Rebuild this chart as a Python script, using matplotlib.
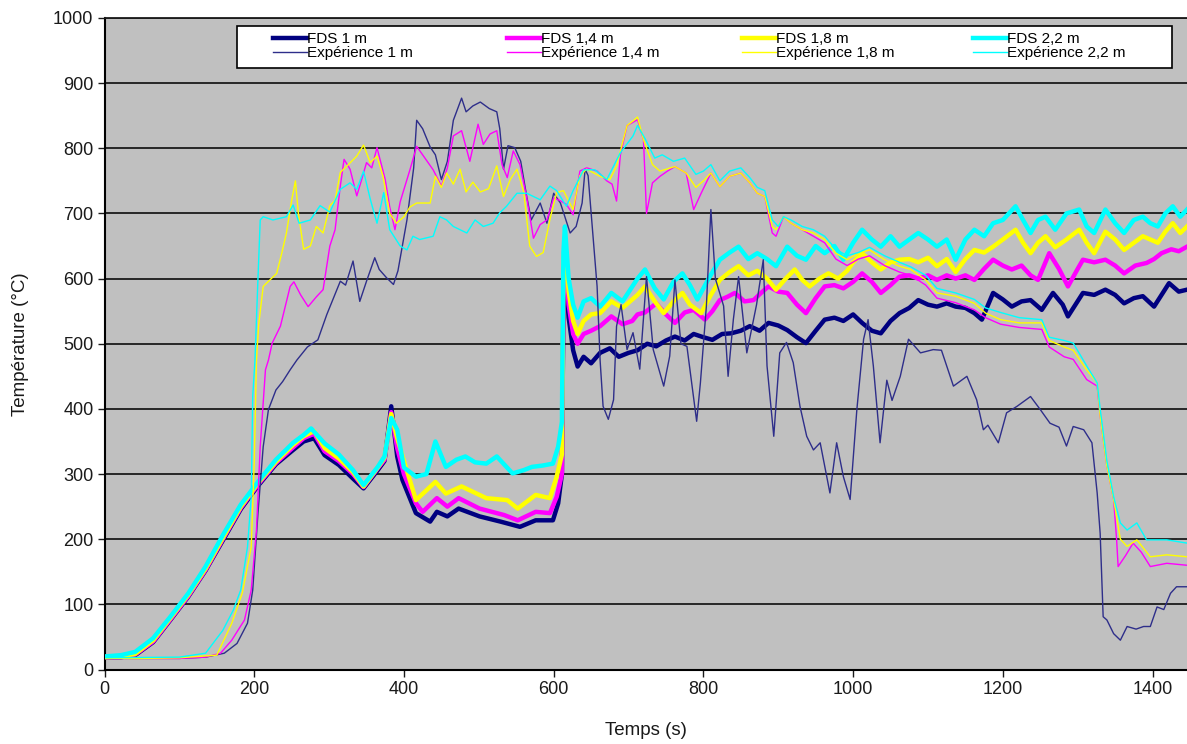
import numpy as np
import matplotlib
matplotlib.use('Agg')
import matplotlib.pyplot as plt
from matplotlib.patches import Rectangle

plt.rcParams['font.family'] = ['Liberation Sans', 'DejaVu Sans']

# (temps s, température °C)
fds_1m = [(0, 19), (22, 19), (41, 22), (65, 42), (88, 76), (112, 112), (135, 152), (158, 198), (182, 246), (205, 282),
          (229, 315), (252, 337), (266, 350), (280, 355), (294, 329), (313, 314), (332, 293), (346, 278), (365, 306),
          (374, 320), (383, 404), (391, 327), (398, 291), (416, 240), (435, 227), (444, 242), (458, 235), (473, 247),
          (501, 235), (529, 227), (555, 219), (576, 229), (599, 229), (606, 255), (611, 300), (613, 560), (615, 620),
          (620, 540), (626, 490), (632, 465), (640, 480), (650, 470), (662, 486), (675, 493), (687, 480), (700, 486),
          (712, 490), (725, 500), (737, 496), (750, 505), (762, 511), (775, 505), (787, 515), (800, 510), (812, 506),
          (825, 515), (837, 516), (850, 520), (862, 527), (875, 520), (887, 532), (900, 528), (912, 521), (925, 510),
          (937, 501), (950, 520), (962, 537), (975, 540), (987, 535), (1000, 545), (1012, 532), (1025, 520),
          (1037, 516), (1050, 535), (1062, 547), (1075, 555), (1087, 567), (1100, 560), (1112, 557), (1125, 562),
          (1137, 557), (1150, 555), (1162, 547), (1172, 537), (1187, 578), (1200, 568), (1212, 557), (1225, 565),
          (1237, 567), (1252, 552), (1267, 578), (1280, 560), (1287, 542), (1297, 560), (1307, 578), (1322, 575),
          (1337, 583), (1350, 575), (1362, 562), (1375, 570), (1387, 573), (1402, 557), (1412, 575), (1422, 593),
          (1435, 580), (1446, 583)]
fds_14m = [(0, 19), (22, 19), (41, 23), (65, 43), (88, 77), (112, 113), (135, 153), (158, 200), (182, 248), (205, 284),
           (229, 317), (252, 341), (266, 355), (280, 362), (294, 335), (313, 320), (332, 300), (346, 280), (365, 309),
           (374, 322), (383, 395), (391, 340), (400, 300), (416, 255), (425, 242), (444, 263), (458, 250), (473, 263),
           (501, 247), (534, 237), (552, 229), (576, 242), (595, 240), (604, 265), (611, 300), (613, 600), (615, 640),
           (620, 560), (626, 515), (632, 500), (640, 515), (650, 520), (662, 527), (677, 542), (692, 530), (705, 535),
           (712, 545), (722, 548), (737, 562), (750, 545), (762, 532), (775, 548), (787, 552), (802, 537), (812, 550),
           (822, 567), (832, 572), (842, 578), (855, 565), (867, 567), (877, 578), (887, 588), (900, 580), (912, 578),
           (925, 560), (937, 547), (950, 570), (962, 588), (975, 590), (987, 585), (1000, 595), (1012, 608),
           (1025, 595), (1037, 578), (1050, 590), (1062, 603), (1075, 605), (1087, 600), (1100, 605), (1112, 598),
           (1125, 605), (1137, 600), (1150, 605), (1162, 598), (1175, 615), (1187, 629), (1200, 620), (1212, 614),
           (1225, 620), (1237, 605), (1247, 598), (1262, 639), (1275, 615), (1287, 588), (1300, 615), (1307, 629),
           (1322, 625), (1337, 629), (1350, 620), (1362, 608), (1377, 620), (1392, 624), (1402, 630), (1412, 639),
           (1425, 645), (1435, 642), (1446, 649)]
fds_18m = [(0, 19), (22, 20), (41, 24), (65, 45), (88, 79), (112, 115), (135, 155), (158, 202), (182, 250), (205, 286),
           (229, 319), (252, 345), (266, 358), (280, 366), (294, 340), (313, 324), (332, 303), (346, 281), (365, 310),
           (374, 325), (383, 392), (391, 355), (400, 320), (416, 260), (430, 275), (442, 288), (456, 270), (477, 281),
           (510, 263), (538, 260), (552, 247), (576, 268), (595, 263), (604, 296), (611, 330), (613, 620), (615, 660),
           (620, 580), (626, 535), (632, 515), (640, 535), (650, 545), (662, 547), (677, 565), (692, 555), (712, 575),
           (722, 588), (735, 565), (747, 547), (760, 565), (772, 578), (782, 560), (797, 547), (810, 575), (822, 598),
           (835, 610), (847, 619), (860, 605), (872, 612), (885, 600), (897, 583), (910, 600), (922, 614), (932, 598),
           (942, 588), (955, 600), (967, 608), (980, 600), (992, 612), (1000, 625), (1012, 639), (1025, 625),
           (1037, 614), (1050, 625), (1062, 629), (1075, 630), (1087, 625), (1100, 632), (1112, 619), (1125, 630),
           (1137, 610), (1150, 630), (1162, 644), (1175, 640), (1187, 649), (1200, 660), (1217, 675), (1227, 655),
           (1237, 639), (1247, 655), (1257, 665), (1270, 648), (1285, 660), (1302, 675), (1312, 655), (1322, 639),
           (1337, 672), (1350, 660), (1362, 644), (1375, 655), (1387, 665), (1397, 660), (1407, 655), (1417, 672),
           (1427, 685), (1437, 670), (1446, 680)]
fds_22m = [(0, 20), (22, 22), (41, 27), (65, 48), (88, 81), (112, 117), (135, 158), (158, 206), (182, 253), (205, 288),
           (229, 322), (252, 348), (266, 360), (276, 370), (294, 347), (313, 330), (332, 306), (346, 283), (365, 311),
           (374, 327), (383, 386), (391, 368), (400, 310), (416, 296), (430, 300), (442, 350), (456, 311), (470, 322),
           (482, 327), (495, 318), (510, 316), (524, 327), (545, 301), (560, 306), (571, 311), (585, 313), (599, 316),
           (606, 342), (611, 380), (613, 640), (615, 680), (620, 600), (626, 560), (632, 540), (640, 565), (650, 570),
           (662, 557), (677, 578), (692, 565), (712, 600), (722, 614), (735, 585), (747, 568), (760, 595), (772, 608),
           (782, 590), (792, 568), (807, 600), (822, 629), (835, 640), (847, 649), (860, 630), (872, 639), (885, 630),
           (897, 619), (912, 649), (925, 635), (937, 629), (950, 650), (962, 639), (975, 650), (987, 629), (1000, 655),
           (1012, 675), (1025, 660), (1037, 649), (1050, 665), (1062, 649), (1075, 660), (1087, 670), (1100, 660),
           (1112, 649), (1125, 660), (1137, 629), (1150, 660), (1162, 675), (1175, 665), (1187, 685), (1200, 690),
           (1217, 711), (1227, 690), (1237, 670), (1247, 690), (1257, 695), (1270, 675), (1285, 700), (1302, 706),
           (1312, 680), (1322, 670), (1337, 706), (1350, 685), (1362, 670), (1375, 690), (1387, 695), (1397, 685),
           (1407, 680), (1417, 700), (1427, 711), (1437, 695), (1446, 706)]

exp_1m = [(0, 17), (50, 17), (100, 17), (135, 19), (160, 25), (177, 40), (191, 71), (198, 122), (205, 240), (212, 342),
          (219, 399), (229, 429), (238, 442), (248, 460), (257, 475), (271, 495), (285, 506), (297, 545), (315, 596),
          (322, 590), (332, 627), (341, 565), (350, 596), (361, 632), (367, 614), (377, 601), (386, 591), (392, 612),
          (404, 690), (413, 770), (417, 843), (425, 830), (435, 802), (442, 790), (450, 752), (458, 780), (466, 843),
          (477, 877), (483, 856), (492, 865), (502, 871), (514, 861), (524, 856), (528, 830), (533, 768), (539, 804),
          (548, 801), (556, 780), (564, 726), (570, 690), (582, 716), (591, 685), (600, 731), (609, 716), (622, 670),
          (630, 680), (638, 716), (642, 768), (646, 758), (653, 660), (658, 588), (662, 475), (666, 404), (673, 384),
          (680, 414), (684, 527), (690, 560), (698, 491), (706, 517), (715, 461), (724, 603), (733, 491), (747, 435),
          (755, 481), (762, 598), (770, 500), (778, 496), (791, 381), (796, 440), (804, 558), (810, 706), (816, 600),
          (827, 558), (833, 450), (840, 537), (847, 603), (858, 486), (871, 560), (880, 629), (885, 466), (894, 358),
          (902, 486), (911, 502), (920, 471), (929, 404), (938, 358), (947, 337), (956, 348), (969, 271), (978, 348),
          (987, 296), (996, 261), (1005, 399), (1014, 507), (1020, 537), (1027, 466), (1036, 348), (1045, 444),
          (1052, 413), (1063, 450), (1074, 507), (1090, 486), (1107, 491), (1118, 490), (1134, 435), (1152, 450),
          (1165, 414), (1174, 368), (1180, 375), (1194, 348), (1205, 394), (1219, 404), (1237, 419), (1250, 399),
          (1263, 378), (1275, 372), (1285, 343), (1294, 373), (1308, 368), (1319, 348), (1326, 271), (1330, 209),
          (1334, 81), (1339, 76), (1348, 55), (1357, 45), (1366, 66), (1378, 62), (1388, 66), (1397, 66), (1406, 96),
          (1415, 92), (1424, 117), (1432, 127), (1446, 127)]
exp_14m = [(0, 17), (50, 17), (100, 17), (135, 19), (155, 25), (170, 45), (187, 76), (196, 122), (203, 214), (208, 342),
           (215, 460), (219, 475), (224, 501), (235, 527), (248, 588), (253, 595), (262, 575), (272, 557), (283, 572),
           (292, 583), (301, 650), (308, 675), (315, 742), (320, 783), (328, 768), (337, 727), (343, 750), (350, 778),
           (357, 770), (364, 801), (375, 752), (381, 710), (388, 675), (395, 718), (408, 767), (417, 803), (428, 785),
           (439, 767), (450, 742), (458, 770), (466, 819), (477, 827), (488, 780), (499, 837), (506, 806), (515, 822),
           (524, 827), (531, 775), (538, 755), (546, 796), (555, 775), (564, 724), (573, 662), (582, 683), (591, 690),
           (600, 724), (608, 720), (617, 714), (626, 698), (635, 765), (644, 770), (658, 765), (671, 750), (678, 745),
           (684, 719), (689, 789), (698, 835), (706, 840), (712, 844), (720, 813), (724, 700), (732, 747), (742, 757),
           (752, 765), (762, 772), (777, 762), (787, 706), (797, 731), (810, 762), (822, 741), (835, 757), (850, 762),
           (862, 747), (872, 731), (882, 726), (892, 670), (897, 665), (907, 695), (917, 685), (932, 675), (947, 665),
           (962, 655), (977, 630), (992, 620), (1007, 630), (1022, 635), (1042, 620), (1062, 610), (1077, 605),
           (1097, 590), (1112, 570), (1137, 563), (1162, 552), (1177, 540), (1197, 530), (1222, 525), (1252, 522),
           (1262, 495), (1282, 480), (1294, 476), (1312, 445), (1326, 435), (1330, 389), (1339, 312), (1348, 261),
           (1352, 199), (1354, 158), (1364, 175), (1374, 194), (1385, 180), (1397, 158), (1419, 163), (1446, 160)]
exp_18m = [(0, 17), (50, 17), (100, 18), (150, 22), (170, 71), (184, 117), (196, 188), (200, 317), (203, 475),
           (206, 530), (212, 588), (221, 598), (230, 608), (237, 640), (243, 670), (250, 720), (255, 750), (259, 700),
           (266, 645), (275, 650), (283, 680), (292, 670), (301, 712), (308, 720), (315, 763), (324, 773), (337, 788),
           (346, 805), (355, 778), (364, 788), (372, 757), (381, 700), (390, 685), (400, 695), (408, 710), (417, 716),
           (435, 716), (442, 757), (450, 740), (457, 762), (466, 745), (475, 768), (483, 733), (492, 748), (502, 733),
           (513, 738), (524, 773), (533, 726), (542, 752), (551, 768), (560, 733), (568, 650), (577, 634), (586, 640),
           (595, 691), (604, 732), (613, 735), (626, 706), (635, 758), (644, 768), (662, 757), (675, 752), (684, 773),
           (698, 835), (706, 842), (712, 848), (720, 813), (732, 775), (742, 765), (762, 772), (777, 762), (790, 740),
           (800, 750), (810, 762), (822, 741), (835, 757), (850, 762), (862, 747), (872, 731), (882, 726), (892, 680),
           (897, 675), (907, 695), (917, 685), (932, 675), (947, 670), (962, 660), (977, 639), (992, 629), (1007, 639),
           (1022, 644), (1042, 629), (1062, 619), (1077, 614), (1097, 598), (1112, 578), (1137, 573), (1162, 562),
           (1177, 547), (1197, 537), (1222, 532), (1252, 532), (1262, 505), (1282, 495), (1294, 490), (1312, 460),
           (1326, 440), (1330, 389), (1339, 312), (1348, 261), (1357, 200), (1366, 189), (1379, 199), (1397, 173),
           (1419, 176), (1446, 173)]
exp_22m = [(0, 18), (100, 19), (135, 25), (158, 60), (172, 91), (182, 122), (191, 188), (196, 265), (198, 419),
           (201, 475), (205, 600), (208, 690), (212, 695), (225, 690), (243, 695), (252, 713), (260, 685), (275, 690),
           (288, 712), (301, 702), (315, 737), (328, 747), (337, 737), (346, 765), (355, 722), (364, 685), (373, 732),
           (381, 675), (395, 650), (404, 644), (412, 665), (421, 660), (439, 665), (448, 695), (457, 690), (466, 680),
           (484, 670), (495, 690), (506, 680), (519, 685), (528, 701), (537, 711), (551, 731), (564, 731), (582, 721),
           (595, 742), (604, 735), (617, 711), (626, 735), (640, 767), (655, 767), (671, 752), (689, 793), (706, 819),
           (712, 835), (722, 815), (735, 785), (745, 790), (760, 780), (775, 785), (790, 760), (800, 765), (810, 775),
           (822, 750), (835, 765), (850, 770), (862, 755), (872, 740), (882, 735), (892, 690), (900, 680), (907, 695),
           (917, 690), (932, 680), (947, 675), (962, 665), (977, 645), (992, 635), (1007, 640), (1022, 648),
           (1042, 635), (1062, 625), (1077, 618), (1097, 605), (1112, 585), (1137, 578), (1162, 568), (1177, 555),
           (1197, 548), (1222, 540), (1252, 537), (1262, 510), (1282, 505), (1294, 501), (1312, 466), (1326, 440),
           (1330, 400), (1339, 320), (1348, 265), (1357, 225), (1366, 214), (1379, 225), (1392, 199), (1419, 199),
           (1446, 194)]

labels_fds = ['FDS 1 m', 'FDS 1,4 m', 'FDS 1,8 m', 'FDS 2,2 m']
labels_exp = ['Expérience 1 m', 'Expérience 1,4 m', 'Expérience 1,8 m', 'Expérience 2,2 m']
colors_fds = ['#000080', '#ff00ff', '#ffff00', '#00ffff']
colors_exp = ['#2e2e8a', '#ff00ff', '#ffff00', '#00ffff']

W, H = 1187, 744
fig = plt.figure(figsize=(W / 100, H / 100), dpi=100)
ax = fig.add_axes([104.5 / W, 1 - 669.5 / H, (W - 104.5) / W, 651.5 / H])
ax.set_facecolor('#c0c0c0')

h_fds = []
for data, c in zip([fds_1m, fds_14m, fds_18m, fds_22m], colors_fds):
    t, T = np.array(data).T
    h, = ax.plot(t, T, color=c, lw=3.2, solid_joinstyle='round', zorder=3)
    h_fds.append(h)
h_exp = []
for data, c in zip([exp_1m, exp_14m, exp_18m, exp_22m], colors_exp):
    t, T = np.array(data).T
    h, = ax.plot(t, T, color=c, lw=1.0, zorder=4)
    h_exp.append(h)

ax.set_xlim(0, 1446)
ax.set_ylim(0, 1000)
ax.set_xticks(range(0, 1401, 200))
ax.set_yticks(range(0, 1001, 100))
ax.grid(axis='y', color='#1a1a1a', lw=1.3)
ax.set_axisbelow(True)
ax.spines['right'].set_visible(False)
ax.spines['top'].set_color('#1a1a1a')
ax.spines['top'].set_linewidth(1.3)
for s in ['left', 'bottom']:
    ax.spines[s].set_linewidth(1.5)
ax.tick_params(direction='out', length=5, width=1, labelsize=13, pad=3, colors='#1a1a1a')
ax.set_xlabel('Temps (s)', fontsize=13.5, color='#1a1a1a')
ax.set_ylabel('Température (°C)', fontsize=13.5, color='#1a1a1a')
ax.xaxis.set_label_coords(0.5, -0.08)
ax.yaxis.set_label_coords(-0.07, 0.5)

# cadre de la légende
fig.add_artist(Rectangle((237 / W, 1 - 68 / H), 935 / W, 42 / H, transform=fig.transFigure,
                         facecolor='white', edgecolor='black', lw=1.2, zorder=3))
col_x = [273, 507, 742, 973]
for i in range(4):
    fig.legend([h_fds[i], h_exp[i]], [labels_fds[i], labels_exp[i]], loc='upper left',
               bbox_to_anchor=(col_x[i] / W, 1 - 32 / H), frameon=False, fontsize=11,
               handlelength=2.2, handletextpad=0.05, labelspacing=0.0, borderpad=0,
               borderaxespad=0)

fig.savefig('out.png', dpi=100)
